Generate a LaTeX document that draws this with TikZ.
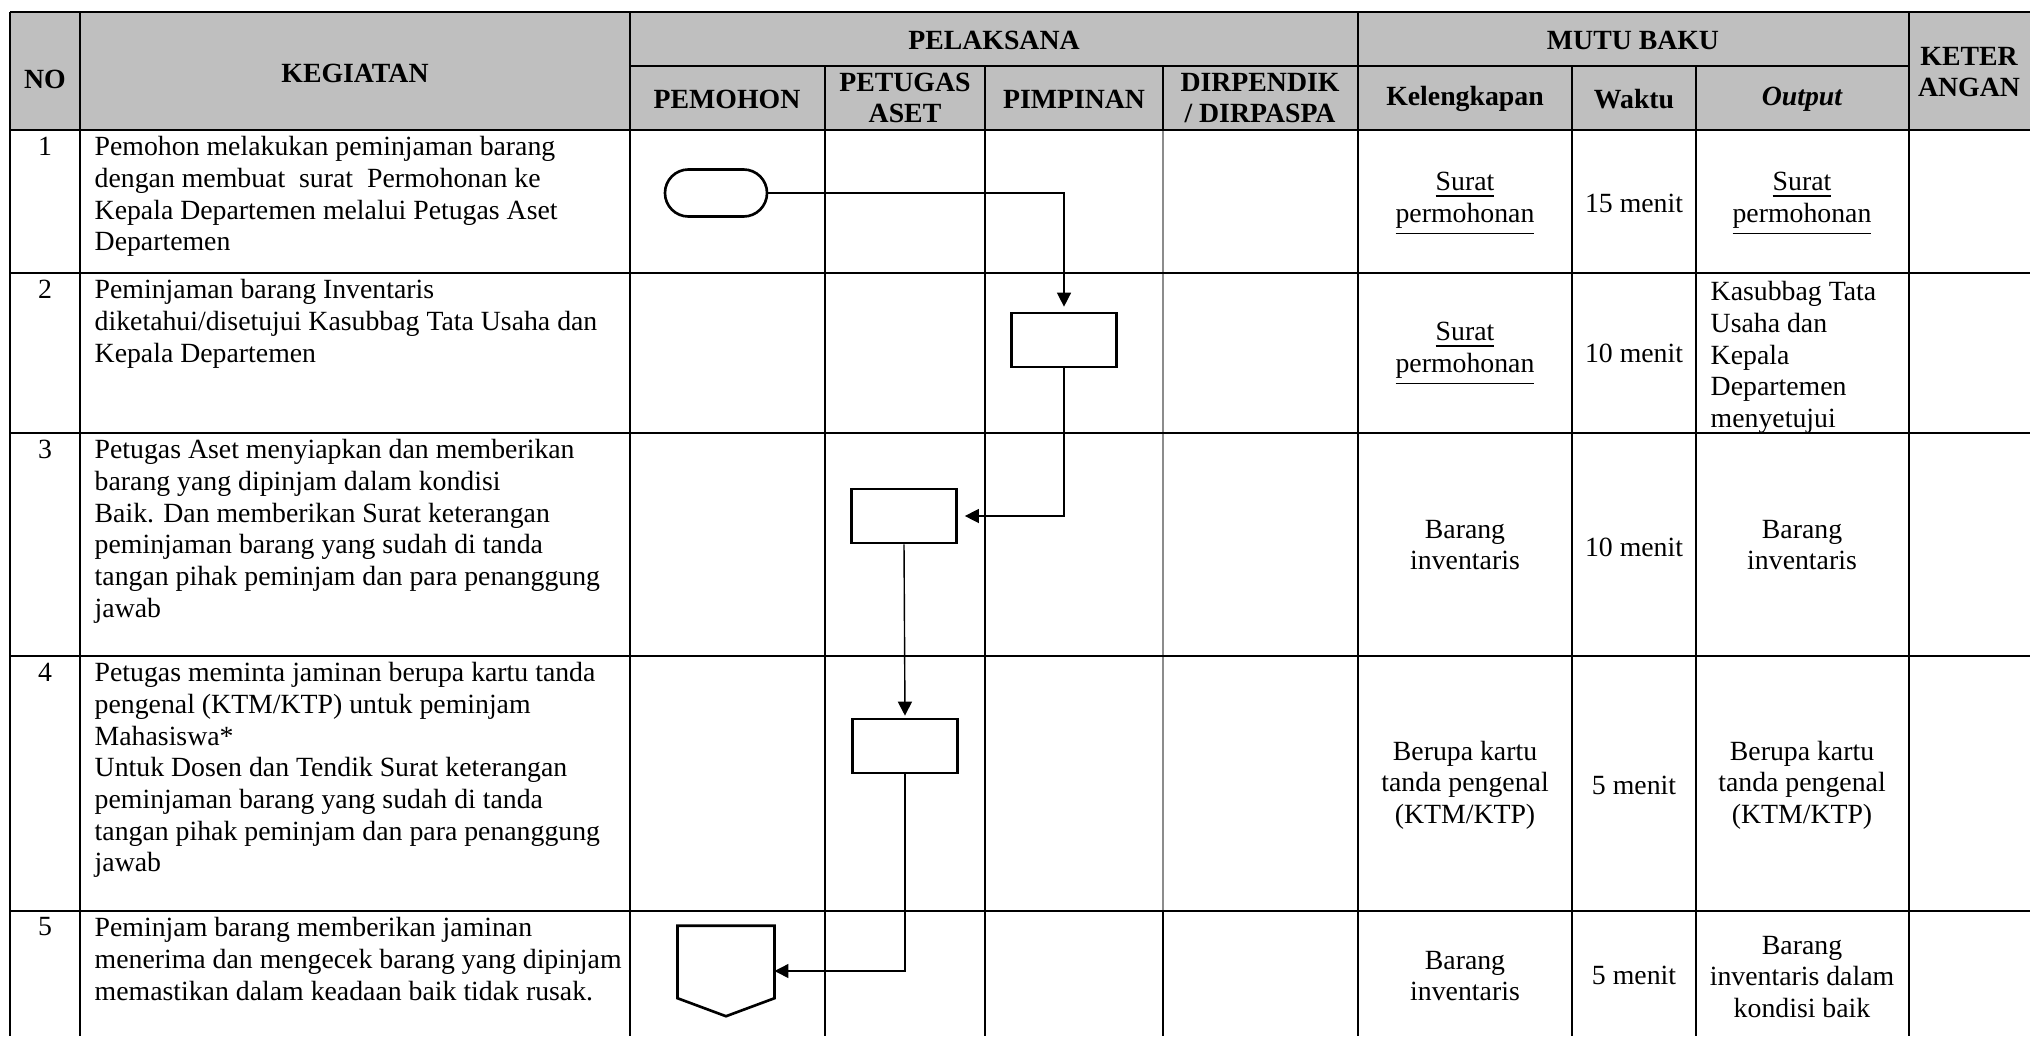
\documentclass[tikz,border=0pt]{standalone}
\usepackage{fontspec}
\setmainfont{Liberation Serif}
\usepackage{tikz}
\usetikzlibrary{arrows.meta, positioning, shapes.misc}

\begin{document}
\begin{tikzpicture}[x=0.01cm, y=-0.01cm,
  font=\fontsize{7.9}{9}\selectfont,
  bold/.style={line width=0.8pt},
  thin/.style={line width=0.35pt},
  hd/.style={font=\fontsize{7.9}{9}\selectfont\bfseries, align=center, inner sep=0pt},
  txt/.style={anchor=north west, align=left, inner sep=0pt},
  num/.style={anchor=north, inner sep=0pt},
  cell/.style={align=center, inner sep=0pt},
  actbox/.style={draw, line width=0.75pt, minimum width=1.05cm, minimum height=0.54cm, inner sep=0pt},
  flow/.style={-{Triangle[length=0.14cm, width=0.14cm]}, line width=0.4pt}]
  \useasboundingbox (0,0) rectangle (2030,1036);
  \fill[black!25] (10,12) rectangle (2030,130);

  \draw[thin] (80,12) -- (80,911) (630,12) -- (630,911) (1358,12) -- (1358,911)
    (1909,12) -- (1909,911);
  \draw[thin] (825,66) -- (825,911) (985,66) -- (985,911) (1163,66) -- (1163,130)
    (1572,66) -- (1572,911) (1696,66) -- (1696,911);
  \draw[thin, black!45] (1163,130) -- (1163,911);
  \draw[line width=0.6pt] (80,911) -- (80,1036) (630,911) -- (630,1036) (825,911) -- (825,1036)
    (985,911) -- (985,1036) (1163,911) -- (1163,1036) (1358,911) -- (1358,1036)
    (1572,911) -- (1572,1036) (1696,911) -- (1696,1036) (1909,911) -- (1909,1036);
  \draw[bold] (10,12) -- (10,1036);
  \draw[bold] (10,12) -- (2030,12) (630,66) -- (1909,66) (10,130) -- (2030,130)
    (10,273) -- (2030,273) (10,433) -- (2030,433) (10,656) -- (2030,656);
  \draw[line width=0.45pt] (10,911) -- (2030,911);

  \node[hd] (hno) at (45,79) {NO};
  \node[hd] (hkeg) at (355,73) {KEGIATAN};
  \node[hd] (hpel) at (994,40) {PELAKSANA};
  \node[hd] (hmutu) at (1633,40) {MUTU BAKU};
  \node[hd] (hket) at (1969,72) {KETER\\ANGAN};
  \node[hd] (hpem) at (727,99) {PEMOHON};
  \node[hd] (hpet) at (905,98) {PETUGAS\\ASET};
  \node[hd] (hpim) at (1074,99) {PIMPINAN};
  \node[hd] (hdir) at (1260,98) {DIRPENDIK\\/ DIRPASPA};
  \node[hd] (hkel) at (1465,99) {Kelengkapan};
  \node[hd] (hwak) at (1634,99) {Waktu};
  \node[hd] (hout) at (1802,99) {\itshape Output};

  \node[num] (no1) at (45,136) {1};
  \node[num] (no2) at (45,279) {2};
  \node[num] (no3) at (45,439) {3};
  \node[num] (no4) at (45,662) {4};
  \node[num] (no5) at (45,917) {5};

  \node[txt] (keg1) at (94,136) {Pemohon melakukan peminjaman barang\\dengan membuat\ \ surat\ \ Permohonan ke\\Kepala Departemen melalui Petugas Aset\\Departemen};
  \node[txt] (keg2) at (94,279) {Peminjaman barang Inventaris\\diketahui/disetujui Kasubbag Tata Usaha dan\\Kepala Departemen};
  \node[txt] (keg3) at (94,439) {Petugas Aset menyiapkan dan memberikan\\barang yang dipinjam dalam kondisi\\Baik. Dan memberikan Surat keterangan\\peminjaman barang yang sudah di tanda\\tangan pihak peminjam dan para penanggung\\jawab};
  \node[txt] (keg4) at (94,662) {Petugas meminta jaminan berupa kartu tanda\\pengenal (KTM/KTP) untuk peminjam\\Mahasiswa*\\Untuk Dosen dan Tendik Surat keterangan\\peminjaman barang yang sudah di tanda\\tangan pihak peminjam dan para penanggung\\jawab};
  \node[txt] (keg5) at (94,917) {Peminjam barang memberikan jaminan\\menerima dan mengecek barang yang dipinjam\\memastikan dalam keadaan baik tidak rusak.};

  \node[rounded rectangle, draw, line width=0.75pt, minimum width=1.02cm, minimum height=0.47cm, inner sep=0pt] (start) at (716,193) {};
  \node[actbox] (approve) at (1064,340) {};
  \node[actbox] (prepare) at (904,516) {};
  \node[actbox] (guarantee) at (905,746) {};
  \node[minimum width=0.955cm, minimum height=0.89cm, inner sep=0pt] (receive) at (726,971) {};
  \draw[line width=0.75pt] (receive.north west) -- (receive.north east) -- ([yshift=0.18cm]receive.south east)
    -- (receive.south) -- ([yshift=0.18cm]receive.south west) -- cycle;

  \draw[flow, shorten >=0.05cm] (start.east) -| (approve.north);
  \draw[flow, shorten >=0.07cm] (approve.south) |- (prepare.east);
  \draw[flow, shorten >=0.02cm] (prepare.south) -- (guarantee.north);
  \draw[flow] (guarantee.south) |- (receive.east);

  \node[cell] (kel1) at (1465,204) {\underline{Surat}\\\underline{permohonan}};
  \node[cell] (wak1) at (1634,203) {15 menit};
  \node[cell] (out1) at (1802,204) {\underline{Surat}\\\underline{permohonan}};
  \node[cell] (kel2) at (1465,354) {\underline{Surat}\\\underline{permohonan}};
  \node[cell] (wak2) at (1634,353) {10 menit};
  \node[txt] (out2) at (1710,281) {Kasubbag Tata\\Usaha dan\\Kepala\\Departemen\\menyetujui};
  \node[cell] (kel3) at (1465,545) {Barang\\inventaris};
  \node[cell] (wak3) at (1634,547) {10 menit};
  \node[cell] (out3) at (1802,545) {Barang\\inventaris};
  \node[cell] (kel4) at (1465,785) {Berupa kartu\\tanda pengenal\\(KTM/KTP)};
  \node[cell] (wak4) at (1634,785) {5 menit};
  \node[cell] (out4) at (1802,785) {Berupa kartu\\tanda pengenal\\(KTM/KTP)};
  \node[cell] (kel5) at (1465,976) {Barang\\inventaris};
  \node[cell] (wak5) at (1634,975) {5 menit};
  \node[cell] (out5) at (1802,977) {Barang\\inventaris dalam\\kondisi baik};
\end{tikzpicture}
\end{document}
